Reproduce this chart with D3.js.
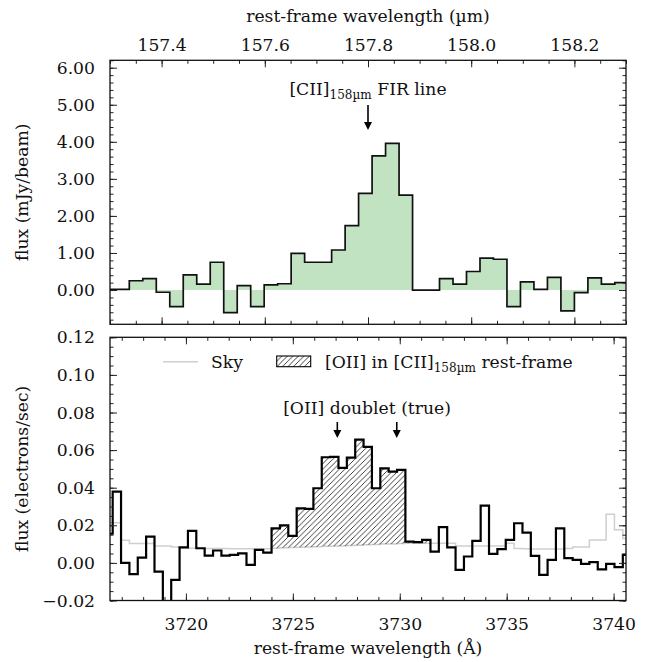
<!DOCTYPE html>
<html><head><meta charset="utf-8">
<script src="https://cdn.jsdelivr.net/npm/d3@7"></script>
<style>
body{margin:0;background:#fff;}
svg{display:block;font-family:"DejaVu Serif",serif;}
</style></head><body>
<svg id="c" width="663" height="662"></svg>
<script>
// ---------- data ----------
// FIR [CII] spectrum (rest-frame wavelength in micron, flux in mJy/beam)
const firWave = [157.2982,157.3243,157.3505,157.3766,157.4028,157.4289,157.4550,157.4812,157.5073,157.5335,
  157.5596,157.5857,157.6119,157.6380,157.6641,157.6903,157.7164,157.7426,157.7687,157.7948,
  157.8210,157.8471,157.8733,157.8994,157.9255,157.9517,157.9778,158.0040,158.0301,158.0562,
  158.0824,158.1085,158.1347,158.1608,158.1869,158.2131,158.2392,158.2654,158.2915];
const firFlux = [0.02,0.02,0.25,0.31,-0.06,-0.45,0.41,0.16,0.75,-0.61,
  0.12,-0.45,0.14,0.17,0.99,0.75,0.75,1.08,1.74,2.61,
  3.62,3.96,2.56,0.00,0.00,0.31,0.16,0.50,0.86,0.83,
  -0.45,0.22,0.02,0.34,-0.56,-0.07,0.33,0.16,0.20];
// optical spectrum (rest-frame wavelength in Angstrom, flux in electrons/sec)
const optWave = [3716.380,3716.771,3717.162,3717.553,3717.944,3718.335,3718.726,3719.117,3719.508,3719.899,
  3720.290,3720.681,3721.073,3721.464,3721.855,3722.246,3722.637,3723.028,3723.419,3723.810,
  3724.201,3724.592,3724.984,3725.375,3725.766,3726.157,3726.548,3726.939,3727.330,3727.721,
  3728.112,3728.503,3728.895,3729.286,3729.677,3730.068,3730.459,3730.850,3731.241,3731.632,
  3732.023,3732.414,3732.806,3733.197,3733.588,3733.979,3734.370,3734.761,3735.152,3735.543,
  3735.934,3736.325,3736.717,3737.108,3737.499,3737.890,3738.281,3738.672,3739.063,3739.454,
  3739.845,3740.236,3740.627];
const optFlux = [0.0155,0.0379,0.0000,-0.0060,0.0028,0.0140,-0.0046,-0.0280,-0.0090,0.0083,
  0.0170,0.0078,0.0039,0.0066,0.0039,0.0043,0.0051,-0.0010,0.0069,0.0055,
  0.0184,0.0200,0.0144,0.0290,0.0287,0.0397,0.0562,0.0564,0.0505,0.0560,
  0.0656,0.0617,0.0397,0.0503,0.0486,0.0495,0.0113,0.0110,0.0122,0.0060,
  0.0190,0.0083,-0.0037,0.0034,0.0117,0.0305,0.0048,0.0073,0.0122,0.0211,
  0.0161,0.0037,-0.0064,0.0016,0.0184,0.0025,0.0016,-0.0005,0.0004,-0.0034,
  -0.0005,-0.0023,0.0043];
const skyFlux = [0.0214,0.0214,0.0120,0.0103,0.0103,0.0103,0.0090,0.0090,0.0085,0.0080,
  0.0078,0.0077,0.0077,0.0076,0.0076,0.0075,0.0075,0.0075,0.0075,0.0075,
  0.0078,0.0080,0.0082,0.0083,0.0085,0.0086,0.0088,0.0089,0.0090,0.0092,
  0.0094,0.0096,0.0098,0.0100,0.0101,0.0103,0.0105,0.0105,0.0105,0.0105,
  0.0105,0.0105,0.0090,0.0090,0.0090,0.0090,0.0090,0.0090,0.0105,0.0076,
  0.0075,0.0074,0.0074,0.0074,0.0074,0.0076,0.0085,0.0085,0.0122,0.0122,
  0.0259,0.0176,0.0130];
const hatchRange = [3724.1, 3731.3];         // [OII] in [CII] rest-frame window
const ciiLine = 157.8;                        // arrow, top panel
const oiiLines = [3727.08, 3729.86];          // arrows, bottom panel
const muTicks = [157.4, 157.6, 157.8, 158.0, 158.2];
const aaTicks = [3720, 3725, 3730, 3735, 3740];
const firYTicks = [0, 1, 2, 3, 4, 5, 6];
const optYTicks = [-0.02, 0, 0.02, 0.04, 0.06, 0.08, 0.10, 0.12];

// ---------- layout ----------
const L = 110, R = 626, T1 = 60.3, B1 = 324.3, T2 = 337.3, B2 = 600.5;
const svg = d3.select("#c");
const FS = 17.2;

const xMu = d3.scaleLinear().domain([157.30, 158.30]).range([L, R]);
const xAA = d3.scaleLinear().domain([3716.45, 3740.58]).range([L, R]);
const y1 = d3.scaleLinear().domain([-0.925, 6.2]).range([B1, T1]);
const y2 = d3.scaleLinear().domain([-0.02, 0.12]).range([B2, T2]);

const defs = svg.append("defs");
defs.append("clipPath").attr("id","clip1").append("rect").attr("x",L).attr("y",T1).attr("width",R-L).attr("height",B1-T1);
defs.append("clipPath").attr("id","clip2").append("rect").attr("x",L).attr("y",T2).attr("width",R-L).attr("height",B2-T2);
const pat = defs.append("pattern").attr("id","hatch").attr("patternUnits","userSpaceOnUse")
  .attr("width",5.5).attr("height",5.5);
pat.append("path").attr("d","M-1,1 L1,-1 M0,5.5 L5.5,0 M4.5,6.5 L6.5,4.5")
  .attr("stroke","#000").attr("stroke-width",0.75);

// step helpers (steps-mid)
function edgesOf(xs){
  const n = xs.length, e = [];
  e.push(xs[0] - (xs[1]-xs[0])/2);
  for (let i=1;i<n;i++) e.push((xs[i-1]+xs[i])/2);
  e.push(xs[n-1] + (xs[n-1]-xs[n-2])/2);
  return e;
}
function stepPts(xs, ys, idx){
  const e = edgesOf(xs), pts = [];
  (idx || d3.range(xs.length)).forEach(i => { pts.push([e[i], ys[i]]); pts.push([e[i+1], ys[i]]); });
  return pts;
}

// ---------- top panel ----------
const g1 = svg.append("g").attr("clip-path","url(#clip1)");
const firPts = stepPts(firWave, firFlux);
g1.append("path").attr("d", d3.area().x(d=>xMu(d[0])).y0(y1(0)).y1(d=>y1(d[1]))(firPts))
  .attr("fill","#c2e3c2");
g1.append("path").attr("d", d3.line().x(d=>xMu(d[0])).y(d=>y1(d[1]))(firPts))
  .attr("fill","none").attr("stroke","#111").attr("stroke-width",1.7);

// ---------- bottom panel ----------
const g2 = svg.append("g").attr("clip-path","url(#clip2)");
const skyPts = stepPts(optWave, skyFlux);
g2.append("path").attr("d", d3.line().x(d=>xAA(d[0])).y(d=>y2(d[1]))(skyPts))
  .attr("fill","none").attr("stroke","#cfcfcf").attr("stroke-width",1.5);
const hIdx = d3.range(optWave.length).filter(i => optWave[i] >= hatchRange[0] && optWave[i] <= hatchRange[1]);
const topH = stepPts(optWave, optFlux, hIdx), botH = stepPts(optWave, skyFlux, hIdx).reverse();
g2.append("path").attr("d", d3.line().x(d=>xAA(d[0])).y(d=>y2(d[1]))(topH.concat(botH)) + "Z")
  .attr("fill","url(#hatch)").attr("stroke","none");
g2.append("path").attr("d", d3.line().x(d=>xAA(d[0])).y(d=>y2(d[1]))(stepPts(optWave, optFlux)))
  .attr("fill","none").attr("stroke","#000").attr("stroke-width",2.2);

// ---------- axes ----------
function styleAxis(g){
  g.select(".domain").remove();
  g.selectAll(".tick line").attr("stroke","#222").attr("stroke-width",1);
  g.selectAll(".tick text").attr("font-family","DejaVu Serif").attr("font-size",FS).attr("fill","#111");
}
function minor(a, b, step){ const r=[]; for(let v=a; v<=b+1e-9; v+=step) r.push(+v.toFixed(6)); return r; }

// top panel x (micron)
const muMinor = minor(157.30, 158.30, 0.05);
svg.append("g").attr("transform",`translate(0,${T1})`).call(d3.axisTop(xMu).tickValues(muMinor).tickSize(-3.5).tickFormat("")).call(styleAxis);
svg.append("g").attr("transform",`translate(0,${T1})`).call(d3.axisTop(xMu).tickValues(muTicks).tickSize(-7).tickPadding(9).tickFormat(d3.format(".1f"))).call(styleAxis);
svg.append("g").attr("transform",`translate(0,${B1})`).call(d3.axisBottom(xMu).tickValues(muMinor).tickSize(-3.5).tickFormat("")).call(styleAxis);
svg.append("g").attr("transform",`translate(0,${B1})`).call(d3.axisBottom(xMu).tickValues(muTicks).tickSize(-7).tickFormat("")).call(styleAxis);
// top panel y
const y1Minor = minor(-0.8, 6.2, 0.2);
svg.append("g").attr("transform",`translate(${L},0)`).call(d3.axisLeft(y1).tickValues(y1Minor).tickSize(-3.5).tickFormat("")).call(styleAxis);
svg.append("g").attr("transform",`translate(${L},0)`).call(d3.axisLeft(y1).tickValues(firYTicks).tickSize(-7).tickPadding(15).tickFormat(d3.format(".2f"))).call(styleAxis);
svg.append("g").attr("transform",`translate(${R},0)`).call(d3.axisRight(y1).tickValues(y1Minor).tickSize(-3.5).tickFormat("")).call(styleAxis);
svg.append("g").attr("transform",`translate(${R},0)`).call(d3.axisRight(y1).tickValues(firYTicks).tickSize(-7).tickFormat("")).call(styleAxis);

// bottom panel x (Angstrom)
const aaMinor = minor(3717, 3740, 1);
svg.append("g").attr("transform",`translate(0,${B2})`).call(d3.axisBottom(xAA).tickValues(aaMinor).tickSize(-3.5).tickFormat("")).call(styleAxis);
svg.append("g").attr("transform",`translate(0,${B2})`).call(d3.axisBottom(xAA).tickValues(aaTicks).tickSize(-7).tickPadding(17).tickFormat(d3.format("d"))).call(styleAxis);
svg.append("g").attr("transform",`translate(0,${T2})`).call(d3.axisTop(xAA).tickValues(aaMinor).tickSize(-3.5).tickFormat("")).call(styleAxis);
svg.append("g").attr("transform",`translate(0,${T2})`).call(d3.axisTop(xAA).tickValues(aaTicks).tickSize(-7).tickFormat("")).call(styleAxis);
// bottom panel y
const y2Minor = minor(-0.02, 0.12, 0.005);
const fmt2 = v => (v < 0 ? "\u2212" : "") + d3.format(".2f")(Math.abs(v));
svg.append("g").attr("transform",`translate(${L},0)`).call(d3.axisLeft(y2).tickValues(y2Minor).tickSize(-3.5).tickFormat("")).call(styleAxis);
svg.append("g").attr("transform",`translate(${L},0)`).call(d3.axisLeft(y2).tickValues(optYTicks).tickSize(-7).tickPadding(15).tickFormat(fmt2)).call(styleAxis);
svg.append("g").attr("transform",`translate(${R},0)`).call(d3.axisRight(y2).tickValues(y2Minor).tickSize(-3.5).tickFormat("")).call(styleAxis);
svg.append("g").attr("transform",`translate(${R},0)`).call(d3.axisRight(y2).tickValues(optYTicks).tickSize(-7).tickFormat("")).call(styleAxis);

// frames
[[T1,B1],[T2,B2]].forEach(([t,b]) => svg.append("rect").attr("x",L).attr("y",t).attr("width",R-L).attr("height",b-t)
  .attr("fill","none").attr("stroke","#111").attr("stroke-width",1.3));

// ---------- labels ----------
function txt(x, y, s, anchor){ return svg.append("text").attr("x",x).attr("y",y).attr("font-size",FS).attr("fill","#111").attr("text-anchor",anchor||"middle").text(s); }
txt((L+R)/2, 22, "rest-frame wavelength (\u00b5m)");
txt((L+R)/2, 654, "rest-frame wavelength (\u00c5)");
svg.append("text").attr("transform",`translate(22,${(T1+B1)/2}) rotate(-90)`).attr("dy","0.35em")
  .attr("text-anchor","middle").attr("font-size",FS).attr("fill","#111").text("flux (mJy/beam)");
svg.append("text").attr("transform",`translate(22,${(T2+B2)/2}) rotate(-90)`).attr("dy","0.35em")
  .attr("text-anchor","middle").attr("font-size",FS).attr("fill","#111").text("flux (electrons/sec)");

function subText(x, y, parts, anchor){
  const t = svg.append("text").attr("x",x).attr("y",y).attr("font-size",FS).attr("fill","#111").attr("text-anchor",anchor||"middle");
  parts.forEach(p => {
    const ts = t.append("tspan").text(p.s);
    if (p.sub) ts.attr("font-size",FS*0.7).attr("dy",4);
    else if (p.after) ts.attr("dy",-4);
  });
  return t;
}
// top annotation
subText(xMu(ciiLine), 95, [{s:"[CII]"},{s:"158\u00b5m",sub:true},{s:" FIR line",after:true}]);
function arrow(x, yTop, yTip){
  svg.append("line").attr("x1",x).attr("x2",x).attr("y1",yTop).attr("y2",yTip-6).attr("stroke","#000").attr("stroke-width",1.6);
  svg.append("path").attr("d",`M${x-4},${yTip-8} L${x+4},${yTip-8} L${x},${yTip} Z`).attr("fill","#000");
}
arrow(xMu(ciiLine), 105, 130);
// bottom annotation
txt((xAA(oiiLines[0])+xAA(oiiLines[1]))/2, 414, "[OII] doublet (true)");
oiiLines.forEach(w => arrow(xAA(w), 422, 438));

// legend
svg.append("line").attr("x1",163).attr("x2",198).attr("y1",361.7).attr("y2",361.7).attr("stroke","#cfcfcf").attr("stroke-width",1.5);
txt(211, 367.5, "Sky", "start");
svg.append("rect").attr("x",276.7).attr("y",356).attr("width",34).attr("height",10.7)
  .attr("fill","url(#hatch)").attr("stroke","#000").attr("stroke-width",1.1);
subText(325, 367.5, [{s:"[OII] in [CII]"},{s:"158\u00b5m",sub:true},{s:" rest-frame",after:true}], "start");
</script>
</body></html>
